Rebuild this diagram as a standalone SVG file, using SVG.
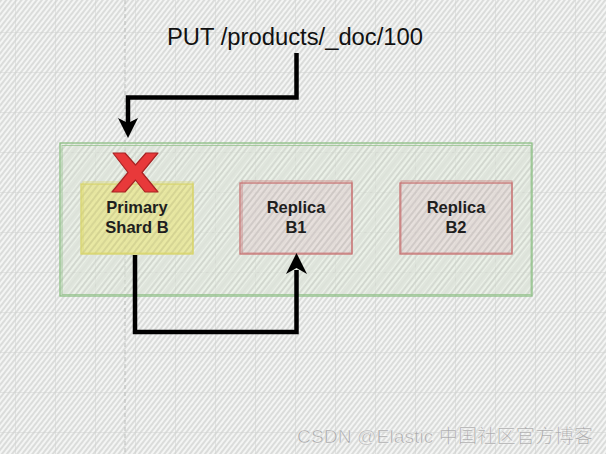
<svg xmlns="http://www.w3.org/2000/svg" width="606" height="454" viewBox="0 0 606 454">
<defs>
<pattern id="hatch" width="4" height="4" patternUnits="userSpaceOnUse" patternTransform="rotate(38)">
<rect width="4" height="4" fill="#f4f5f4"/>
<line x1="1" y1="0" x2="1" y2="4" stroke="#c6c8c6" stroke-width="1.1"/>
</pattern>
<pattern id="grid" width="40" height="40" patternUnits="userSpaceOnUse" x="15" y="32">
<path d="M0 0H40M0 0V40" fill="none" stroke="#d0d2d0" stroke-width="1"/>
</pattern>
<pattern id="boxhatch" width="5" height="5" patternUnits="userSpaceOnUse" patternTransform="rotate(38)">
<line x1="1" y1="0" x2="1" y2="5" stroke="#000" stroke-opacity="0.10" stroke-width="1.2"/>
</pattern>
</defs>
<style>
.lbl{font-family:"Liberation Sans",Arial,sans-serif;font-weight:bold;font-size:16.5px;fill:#1e1e1e;text-anchor:middle}
.title{font-family:"Liberation Sans",Arial,sans-serif;font-size:23px;fill:#111;text-anchor:middle}
.edge{fill:none;stroke:#000;stroke-width:4.5;stroke-linejoin:miter}
.head{fill:#000}
.wm{font-family:"Liberation Sans","Noto Sans CJK SC",sans-serif;font-size:19px;fill:#a9a9a9;stroke:#ffffff;stroke-width:0.6;stroke-opacity:0.7}
</style>
<rect width="606" height="454" fill="url(#hatch)"/>
<rect width="606" height="454" fill="url(#grid)"/>
<line x1="125" y1="0" x2="125" y2="454" stroke="#bcbebc" stroke-width="1" stroke-dasharray="4 3"/>

<g id="container">
<rect x="60" y="143" width="472" height="153" fill="#e3ecdf" fill-opacity="0.55"/>
<rect x="60" y="143" width="472" height="153" fill="url(#boxhatch)"/>
<rect x="60" y="143" width="472" height="153" fill="none" stroke="#8dbf84" stroke-width="1.3"/>
<rect x="62" y="145.5" width="469" height="149" fill="none" stroke="#8dbf84" stroke-width="1" stroke-opacity="0.7"/>
</g>

<g id="primary">
<rect x="81" y="184" width="112" height="70" fill="#e8e68c" fill-opacity="0.75"/>
<rect x="81" y="184" width="112" height="70" fill="url(#boxhatch)"/>
<rect x="81" y="184" width="112" height="70" fill="none" stroke="#d8d46a" stroke-width="1.3"/>
<rect x="83" y="182" width="110" height="71" fill="none" stroke="#d8d46a" stroke-width="1" stroke-opacity="0.7"/>
<text class="lbl" x="137" y="213">Primary</text>
<text class="lbl" x="137" y="233">Shard B</text>
</g>

<g id="xmark">
<polygon points="113,153 125,153 135.5,165 146,153 158,153 142,172.5 158,192 145,192 135.5,180 125,192 112,192 128,172.5" fill="#e8393a" stroke="#a82424" stroke-width="1.2" stroke-linejoin="round"/>
</g>

<g id="replicaB1">
<rect x="240" y="183" width="112" height="71" fill="#e4d6d6" fill-opacity="0.6"/>
<rect x="240" y="183" width="112" height="71" fill="url(#boxhatch)"/>
<rect x="240" y="183" width="112" height="71" fill="none" stroke="#c87272" stroke-width="1.3"/>
<rect x="242" y="181" width="110" height="72" fill="none" stroke="#c87272" stroke-width="1" stroke-opacity="0.7"/>
<text class="lbl" x="296" y="213">Replica</text>
<text class="lbl" x="296" y="233">B1</text>
</g>

<g id="replicaB2">
<rect x="400" y="183" width="112" height="71" fill="#e4d6d6" fill-opacity="0.6"/>
<rect x="400" y="183" width="112" height="71" fill="url(#boxhatch)"/>
<rect x="400" y="183" width="112" height="71" fill="none" stroke="#c87272" stroke-width="1.3"/>
<rect x="401" y="181" width="111" height="72" fill="none" stroke="#c87272" stroke-width="1" stroke-opacity="0.7"/>
<text class="lbl" x="456" y="213">Replica</text>
<text class="lbl" x="456" y="233">B2</text>
</g>

<g id="title">
<text class="title" x="295" y="45" textLength="256" lengthAdjust="spacingAndGlyphs">PUT /products/_doc/100</text>
</g>

<g id="connectors">
<path class="edge" d="M296.5 53V97.5H128V124"/>
<path class="head" d="M128 138L118 118L128 123L138 118Z"/>
<path class="edge" d="M135 255V332H296.5V270"/>
<path class="head" d="M296.5 253L286 274L296.5 268L307 274Z"/>
</g>

<text class="wm" x="297" y="443" textLength="296" lengthAdjust="spacingAndGlyphs">CSDN @Elastic 中国社区官方博客</text>
</svg>
